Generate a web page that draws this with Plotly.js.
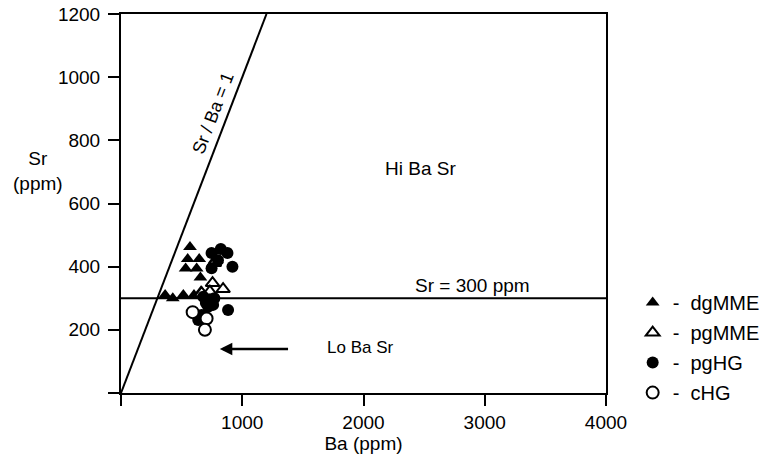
<!DOCTYPE html>
<html>
<head>
<meta charset="utf-8">
<script src="https://cdn.plot.ly/plotly-3.0.1.min.js"></script>
<style>html,body{margin:0;padding:0;background:#fff;}#chart{width:777px;height:459px;}</style>
</head>
<body>
<div id="chart"></div>
<script>
// Data (Ba ppm, Sr ppm)
const dgMME_Ba = [569, 550, 645, 533, 624, 655, 364, 427, 514, 602, 660];
const dgMME_Sr = [462, 424, 424, 394, 394, 366, 310, 300, 310, 310, 322];
const pgMME_Ba = [782, 770, 755, 842, 733, 665];
const pgMME_Sr = [421, 412, 348, 329, 321, 316];
const pgHG_Ba = [823, 747, 878, 919, 747, 800, 678, 733, 719, 760, 883, 665, 637, 700, 770];
const pgHG_Sr = [456, 443, 443, 400, 395, 420, 305, 295, 273, 279, 263, 247, 231, 285, 300];
const cHG_Ba = [591, 706, 692];
const cHG_Sr = [256, 236, 200];

const ratioLineBa = [0, 1200];
const ratioLineSr = [0, 1200];
const srLineBa = [0, 4000];
const srLineSr = [300, 300];

const xTickVals = [0, 1000, 2000, 3000, 4000];
const xTickText = ['', '1000', '2000', '3000', '4000'];
const yTickVals = [0, 200, 400, 600, 800, 1000, 1200];
const yTickText = ['', '200', '400', '600', '800', '1000', '1200'];

const FONT = 'Liberation Sans, Arial, sans-serif';
const INK = '#000';

const traces = [
  {x: ratioLineBa, y: ratioLineSr, mode: 'lines', line: {color: INK, width: 2}, showlegend: false, hoverinfo: 'skip'},
  {x: srLineBa, y: srLineSr, mode: 'lines', line: {color: INK, width: 2}, showlegend: false, hoverinfo: 'skip'},
  {x: dgMME_Ba, y: dgMME_Sr, mode: 'markers', name: '-  dgMME', legendgroup: 'a',
   marker: {symbol: 'triangle-up', size: 12, color: INK}},
  {x: pgMME_Ba, y: pgMME_Sr, mode: 'markers', name: '-  pgMME', legendgroup: 'b',
   marker: {symbol: 'triangle-up', size: 12, color: '#fff', line: {color: INK, width: 2}}},
  {x: pgHG_Ba, y: pgHG_Sr, mode: 'markers', name: '-  pgHG', legendgroup: 'c',
   marker: {symbol: 'circle', size: 12, color: INK}},
  {x: cHG_Ba, y: cHG_Sr, mode: 'markers', name: '-  cHG', legendgroup: 'd',
   marker: {symbol: 'circle', size: 12, color: '#fff', line: {color: INK, width: 2}}}
];

const layout = {
  width: 777, height: 459,
  margin: {l: 121, r: 169, t: 14, b: 66, pad: 0},
  paper_bgcolor: '#fff', plot_bgcolor: '#fff',
  font: {family: FONT, size: 19, color: INK},
  showlegend: true,
  legend: {x: 1.055, y: 0.29, xanchor: 'left', yanchor: 'top', font: {family: FONT, size: 20, color: INK},
           tracegroupgap: 1, itemwidth: 30, borderwidth: 0, bgcolor: 'rgba(0,0,0,0)'},
  xaxis: {range: [0, 4000], tickvals: xTickVals, ticktext: xTickText, ticks: 'outside', ticklen: 11, tickwidth: 2,
          tickcolor: INK, showline: true, linecolor: INK, linewidth: 2, mirror: true, showgrid: false, zeroline: false,
          tickfont: {family: FONT, size: 19, color: INK},
          title: {text: 'Ba (ppm)', font: {family: FONT, size: 19, color: INK}, standoff: 4}},
  yaxis: {range: [0, 1200], tickvals: yTickVals, ticktext: yTickText, ticks: 'outside', ticklen: 11, tickwidth: 2,
          tickcolor: INK, showline: true, linecolor: INK, linewidth: 2, mirror: true, showgrid: false, zeroline: false,
          ticklabelstandoff: 4, tickfont: {family: FONT, size: 19, color: INK}},
  annotations: [
    {xref: 'paper', yref: 'paper', x: -0.226, y: 0.585, text: 'Sr<br>(ppm)', showarrow: false, align: 'center',
     font: {family: FONT, size: 19, color: INK}},
    {x: 759, y: 887, text: 'Sr / Ba = 1', textangle: -69, showarrow: false, font: {family: FONT, size: 18, color: INK}},
    {x: 2473, y: 711, text: 'Hi Ba Sr', showarrow: false, font: {family: FONT, size: 19, color: INK}},
    {x: 2896, y: 339, text: 'Sr = 300 ppm', showarrow: false, font: {family: FONT, size: 19, color: INK}},
    {x: 1972, y: 143, text: 'Lo Ba Sr', showarrow: false, font: {family: FONT, size: 17, color: INK}},
    {x: 815, y: 139, ax: 1390, ay: 139, axref: 'x', ayref: 'y', text: '', showarrow: true,
     arrowhead: 2, arrowsize: 1, arrowwidth: 2.5, arrowcolor: INK}
  ]
};

Plotly.newPlot('chart', traces, layout, {displayModeBar: false, staticPlot: true});
</script>
</body>
</html>
